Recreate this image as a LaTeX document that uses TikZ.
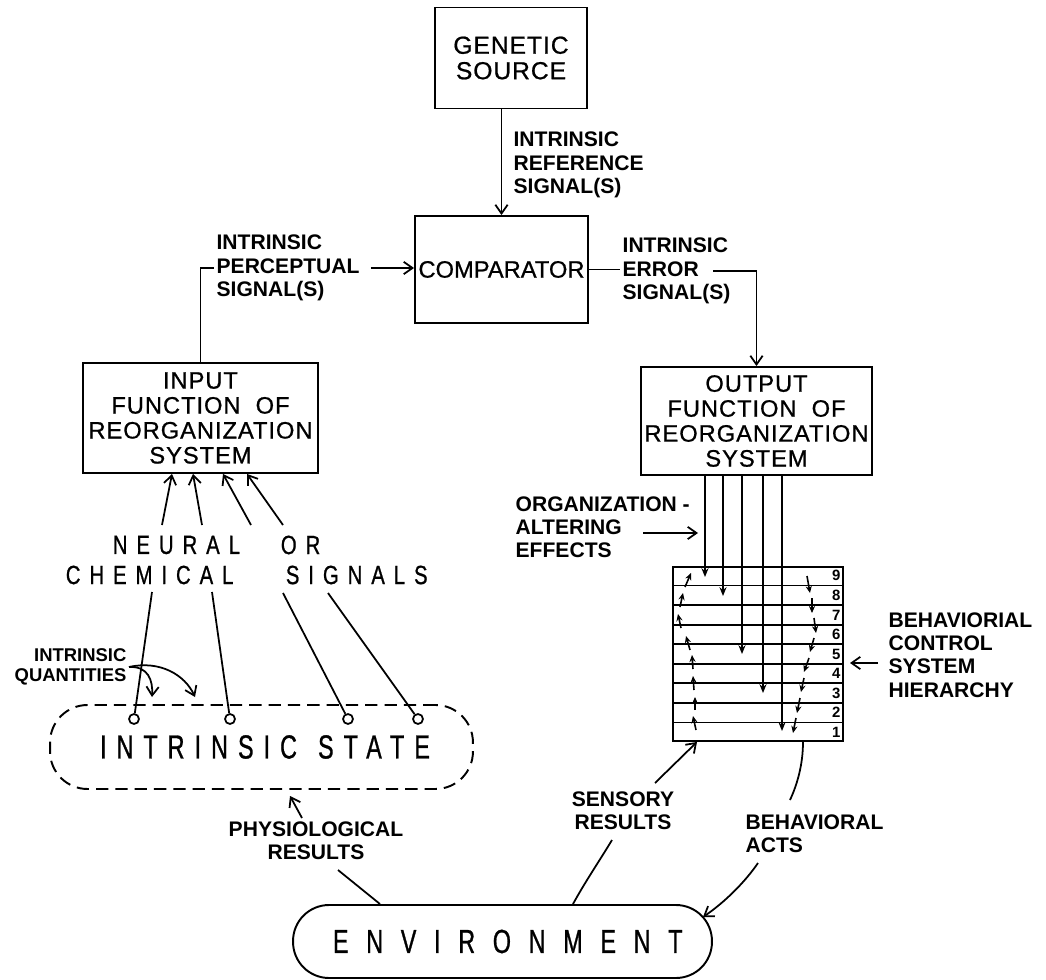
\documentclass[tikz,border=0pt]{standalone}
\usepackage{fontspec}
\setmainfont{Liberation Sans}
\newfontfamily\boxfont[LetterSpace=4,FakeBold=0.8]{Liberation Sans}
\newfontfamily\widefont[FakeStretch=0.77,LetterSpace=34,FakeBold=0.8]{Liberation Sans}
\newfontfamily\statefont[FakeStretch=0.7,LetterSpace=30,FakeBold=0.8]{Liberation Sans}
\newfontfamily\envfont[FakeStretch=0.7,LetterSpace=53,FakeBold=0.8]{Liberation Sans}
\usetikzlibrary{arrows.meta,positioning,calc}

\begin{document}
\begin{tikzpicture}[x=0.02cm, y=-0.02cm, line width=1pt,
  >={Straight Barb[length=5pt,width=7pt]},
  box/.style={draw, line width=1.1pt, inner sep=0pt, align=center,
    font=\boxfont\fontsize{13.5}{14.2}\selectfont},
  lab/.style={inner sep=1pt, align=left, font=\bfseries\fontsize{12}{13.2}\selectfont},
  wide/.style={inner sep=0pt, anchor=west, font=\widefont\fontsize{15}{15}\selectfont},
  num/.style={inner sep=1.5pt, anchor=east, font=\bfseries\fontsize{8.5}{9}\selectfont},
  ring/.style={circle, draw, inner sep=0pt, minimum size=0.2cm},
  dn/.style={-{Stealth[length=5pt,width=4pt]}},
  chain/.style={-{Stealth[length=4pt,width=3.5pt]}, line width=0.9pt}]
  \useasboundingbox (0,0) rectangle (1046,980);

  % boxes
  \node[box, minimum width=3.04cm, minimum height=2.02cm,
    font=\boxfont\fontsize{14}{14.5}\selectfont] (genetic) at (511,58) {GENETIC\\SOURCE};
  \node[box, minimum width=3.46cm, minimum height=2.14cm,
    font=\addfontfeature{FakeBold=0.8}\fontsize{13.5}{14}\selectfont] (comparator) at (501.5,269.5) {COMPARATOR};
  \node[box, minimum width=4.7cm, minimum height=2.2cm] (input) at (200.5,418)
    {INPUT\\FUNCTION\ \ OF\\REORGANIZATION\\SYSTEM};
  \node[box, minimum width=4.62cm, minimum height=2.16cm] (output) at (756.5,421)
    {OUTPUT\\FUNCTION\ \ OF\\REORGANIZATION\\SYSTEM};

  % hierarchy of nine levels
  \node[box, minimum width=3.4cm, minimum height=3.48cm] (hier) at (758,654) {};
  \foreach \k in {1,...,8}
    \draw ($(hier.south west)!\k/9!(hier.north west)$) -- ($(hier.south east)!\k/9!(hier.north east)$);
  \foreach \k in {1,...,9}
    \node[num] at ($(hier.south east)!{(\k-0.5)/9}!(hier.north east)$) {\k};

  % intrinsic state and environment
  \node[draw, dash pattern=on 7pt off 4pt, line width=1.1pt, minimum width=8.46cm,
    minimum height=1.68cm, rounded corners=0.75cm,
    font=\statefont\fontsize{19}{19}\selectfont] (state) at (261.5,747) {\hspace{4pt}INTRINSIC\hspace{12pt}STATE};
  \node[draw, line width=1.1pt, minimum width=8.38cm, minimum height=1.46cm,
    rounded corners=0.72cm, font=\envfont\fontsize{19}{19}\selectfont] (env) at (502.5,941.5) {\hspace{6pt}ENVIRONMENT};

  % labels
  \node[lab, anchor=west] (refl) at (511,165) {INTRINSIC\\REFERENCE\\SIGNAL(S)};
  \node[lab, anchor=west] (percl) at (214,268) {INTRINSIC\\PERCEPTUAL\\SIGNAL(S)};
  \node[lab, anchor=west] (errl) at (620,271) {INTRINSIC\\ERROR\\SIGNAL(S)};
  \node[lab, anchor=west] (orgl) at (513,527) {ORGANIZATION -\\ALTERING\\EFFECTS};
  \node[lab, anchor=west] (hierl) at (886,655) {BEHAVIORIAL\\CONTROL\\SYSTEM\\HIERARCHY};
  \node[lab, anchor=east, align=right, font=\bfseries\fontsize{10.5}{11.3}\selectfont]
    (quant) at (129,667) {INTRINSIC\\QUANTITIES};
  \node[lab, align=center] (physl) at (316,841) {PHYSIOLOGICAL\\RESULTS};
  \node[lab, align=center] (sensl) at (623,811) {SENSORY\\RESULTS};
  \node[lab, anchor=west] (behavl) at (743,833.5) {BEHAVIORAL\\ACTS};
  \node[wide] (neural) at (112,545) {NEURAL};
  \node[wide] (orw) at (280,545) {OR};
  \node[wide] (chem) at (65,575) {CHEMICAL};
  \node[wide] (sig) at (285,575) {SIGNALS};

  % signal loop
  \draw[->] (comparator.north |- genetic.south) -- (comparator.north);
  \draw (input.north) |- (percl.west);
  \draw[->] ([xshift=5pt]percl.east) -- (percl.east -| comparator.west);
  \draw (comparator.east) -- (comparator.east -| errl.west);
  \coordinate (errtail) at (713,271);
  \draw[->] (errtail) -| (output.north);
  \foreach \x/\y in {705/577, 723/596, 742/654, 763/693, 782/731}
    \draw[dn] (\x,0 |- output.south) -- (\x,\y);
  \draw[->] (643,533) -- (698,533);
  \draw[->] (878,663) -- (850,663);

  % circulation inside the hierarchy
  \foreach \a/\b/\c/\d in {685/587/691/573, 680/607/683/593, 681/628/678/614, 690/650/686/636,
      693/669/692/655, 694/690/693/676, 695/710/695/697, 696/730/693/716}
    \draw[chain] (\a,\b) -- (\c,\d);
  \foreach \a/\b/\c/\d in {807/576/810/593, 812/598/812/613, 814/618/816/633, 814/638/810/652,
      809/658/804/672, 804/678/801/692, 800/698/797/713, 796/718/793/733}
    \draw[chain] (\a,\b) -- (\c,\d);

  % intrinsic quantities and their signals
  \foreach \i/\x in {1/134, 2/230, 3/348, 4/418}
    \node[ring] (q\i) at (\x,719) {};
  \draw (q1) -- (152,592);
  \draw (q2) -- (212,592);
  \draw (q3) -- (283,593);
  \draw (q4) -- (328,593);
  \draw[->] (162,525) -- (input.south -| 172,0);
  \draw[->] (202,525) -- (input.south -| 193,0);
  \draw[->] (251,525) -- (input.south -| 223,0);
  \draw[->] (283,525) -- (input.south -| 247,0);
  \draw[->] (quant.east) .. controls (148,666) and (153,680) .. (152,697);
  \draw[->] (quant.east) .. controls (160,660) and (185,675) .. (195,697);

  % environment feedback
  \draw[->] (302,818) -- (290,796);
  \draw (338,870) -- (env.north -| 380,0);
  \draw[->] (655,783) -- (hier.south -| 697,0);
  \draw (612,840) .. controls (600,860) and (585,882) .. (env.north -| 573,0);
  \draw (hier.south -| 803,0) .. controls (803,765) and (797,785) .. (790,800);
  \draw[->] (758,863) .. controls (745,882) and (725,902) .. (703,917);
\end{tikzpicture}
\end{document}
